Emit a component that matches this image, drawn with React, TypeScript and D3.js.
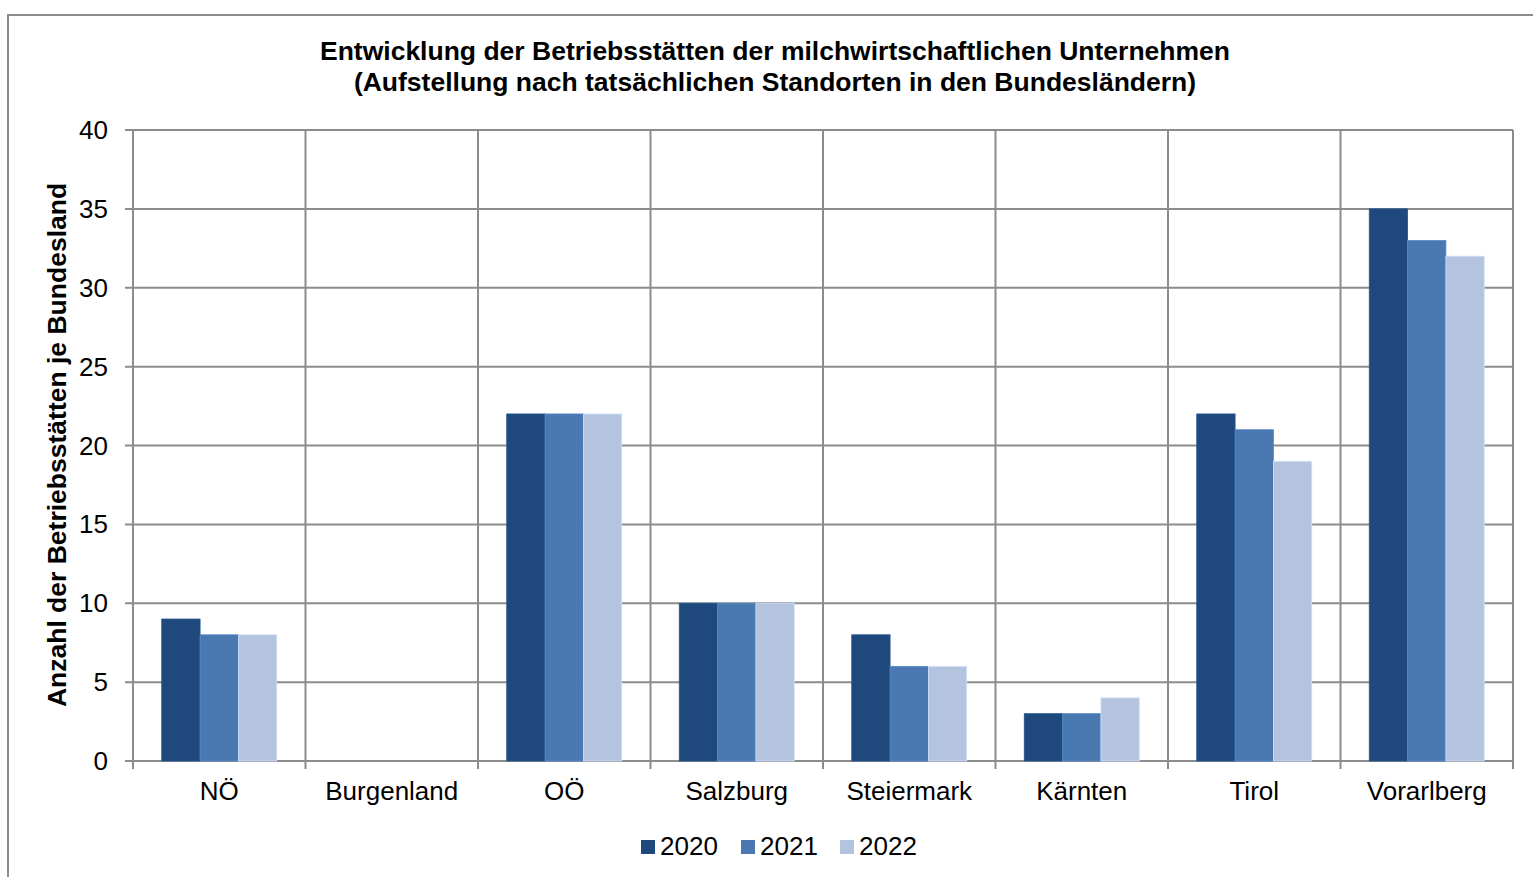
import React, { useEffect, useRef } from "react";
import * as d3 from "d3";

const categories = ["NÖ", "Burgenland", "OÖ", "Salzburg", "Steiermark", "Kärnten", "Tirol", "Vorarlberg"];
const years = ["2020", "2021", "2022"];
const values2020 = [9, 0, 22, 10, 8, 3, 22, 35];
const values2021 = [8, 0, 22, 10, 6, 3, 21, 33];
const values2022 = [8, 0, 22, 10, 6, 4, 19, 32];
const yTicks = [0, 5, 10, 15, 20, 25, 30, 35, 40];

const colors = ["#1f497d", "#4a78b0", "#b4c3de"];
const FONT = "'Liberation Sans', Arial, sans-serif";

const App: React.FC = () => {
    const svgRef = useRef<SVGSVGElement | null>(null);

    useEffect(() => {
        if (!svgRef.current) return;
        const svg = d3.select(svgRef.current);
        svg.selectAll("*").remove();

        const left = 133, right = 1513, top = 130, bottom = 761;
        const series = [values2020, values2021, values2022];

        // Rahmen
        svg.append("rect")
            .attr("x", 8).attr("y", 15)
            .attr("width", 1540).attr("height", 880)
            .attr("fill", "#fff")
            .attr("stroke", "#8c8c8c")
            .attr("stroke-width", 2);

        const x = d3.scaleBand().domain(categories).range([left, right]);
        const y = d3.scaleLinear().domain([0, 40]).range([bottom, top]);
        const barW = x.bandwidth() / 4.5;
        const grid = "#8c8c8c";

        // horizontale Gitterlinien
        svg.append("g").selectAll("line").data(yTicks).enter().append("line")
            .attr("x1", left - 8).attr("x2", right)
            .attr("y1", (d) => y(d)).attr("y2", (d) => y(d))
            .attr("stroke", grid).attr("stroke-width", 2);

        // vertikale Gitterlinien
        const bounds = categories.map((c) => x(c) as number).concat([right]);
        svg.append("g").selectAll("line").data(bounds).enter().append("line")
            .attr("x1", (d) => d).attr("x2", (d) => d)
            .attr("y1", top).attr("y2", bottom + 8)
            .attr("stroke", grid).attr("stroke-width", 2);

        // Balken
        series.forEach((vals, si) => {
            svg.append("g").selectAll("rect").data(vals).enter().append("rect")
                .attr("x", (_d, i) => (x(categories[i]) as number) + barW * 0.75 + si * barW)
                .attr("y", (d) => y(d))
                .attr("width", barW)
                .attr("height", (d) => bottom - y(d))
                .attr("fill", colors[si])
                .attr("stroke", d3.color(colors[si])!.brighter(0.4).toString())
                .attr("stroke-width", 0.8);
        });

        // Y-Achse Beschriftungen
        svg.append("g").selectAll("text").data(yTicks).enter().append("text")
            .attr("x", 108).attr("y", (d) => y(d) + 9)
            .attr("text-anchor", "end")
            .attr("font-family", FONT).attr("font-size", 26)
            .text((d) => d);

        // Kategorien
        svg.append("g").selectAll("text").data(categories).enter().append("text")
            .attr("x", (d) => (x(d) as number) + x.bandwidth() / 2)
            .attr("y", 800)
            .attr("text-anchor", "middle")
            .attr("font-family", FONT).attr("font-size", 26)
            .text((d) => d);

        // Titel
        const title = svg.append("text")
            .attr("text-anchor", "middle")
            .attr("font-family", FONT).attr("font-size", 26.5).attr("font-weight", "bold");
        title.append("tspan").attr("x", 775).attr("y", 60)
            .text("Entwicklung der Betriebsstätten der milchwirtschaftlichen Unternehmen");
        title.append("tspan").attr("x", 775).attr("y", 91)
            .text("(Aufstellung nach tatsächlichen Standorten in den Bundesländern)");

        // Y-Achsentitel
        svg.append("text")
            .attr("transform", `translate(66,445) rotate(-90)`)
            .attr("text-anchor", "middle")
            .attr("font-family", FONT).attr("font-size", 26.5).attr("font-weight", "bold")
            .text("Anzahl der Betriebsstätten je Bundesland");

        // Legende
        const legendX = [641, 741, 840];
        years.forEach((yr, i) => {
            svg.append("rect")
                .attr("x", legendX[i]).attr("y", 840)
                .attr("width", 14).attr("height", 14)
                .attr("fill", colors[i]);
            svg.append("text")
                .attr("x", legendX[i] + 19).attr("y", 855)
                .attr("font-family", FONT).attr("font-size", 26)
                .text(yr);
        });
    }, []);

    return <svg ref={svgRef} width={1533} height={877} style={{ position: "absolute", left: 0, top: 0 }} />;
};

export default App;
